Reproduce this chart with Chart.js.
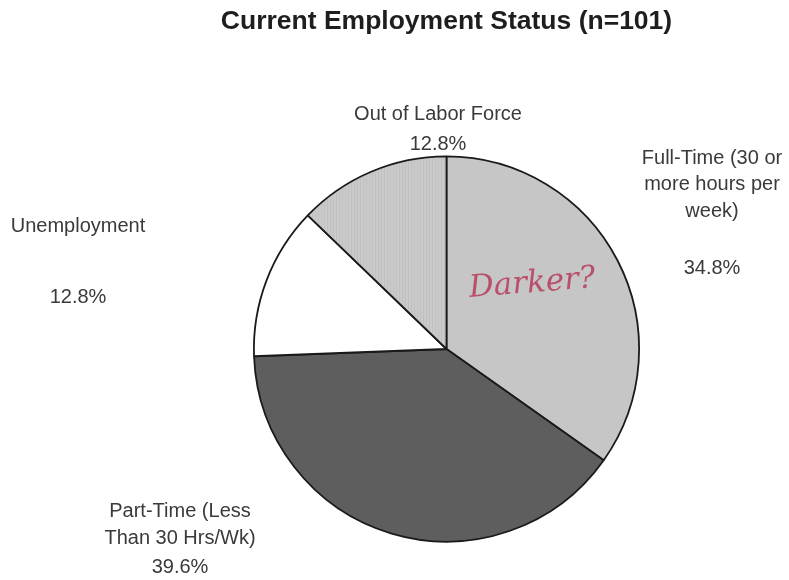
<!DOCTYPE html>
<html>
<head>
<meta charset="utf-8">
<script src="https://cdn.jsdelivr.net/npm/chart.js@4"></script>
<style>
  html, body { margin: 0; padding: 0; background: #fff; }
  #wrap { width: 789px; height: 580px; position: relative; }
</style>
</head>
<body>
<div id="wrap"><canvas id="chart"></canvas></div>
<script>
const title = "Current Employment Status (n=101)";
const categories = [
  "Full-Time (30 or more hours per week)",
  "Part-Time (Less Than 30 Hrs/Wk)",
  "Unemployment",
  "Out of Labor Force",
];
const values = [34.8, 39.6, 12.8, 12.8];
const labelLines = [
  ["Full-Time (30 or", "more hours per", "week)", "", "34.8%"],
  ["Part-Time (Less", "Than 30 Hrs/Wk)", "39.6%"],
  ["Unemployment", "", "", "12.8%"],
  ["Out of Labor Force", "12.8%"],
];
const note = "Darker?";

function hatch(base, line) {
  const c = document.createElement("canvas");
  c.width = 3;
  c.height = 1;
  const g = c.getContext("2d");
  g.fillStyle = base;
  g.fillRect(0, 0, 3, 1);
  g.fillStyle = line;
  g.fillRect(0, 0, 1, 1);
  return g.createPattern(c, "repeat");
}

// where each label block sits (center x, first baseline y) and line spacing
const labelPos = [
  { x: 712, y: 164, gap: [0, 26, 27, 0, 57] },
  { x: 180, y: 517, gap: [0, 27, 29] },
  { x: 78, y: 232, gap: [0, 0, 0, 71] },
  { x: 438, y: 120, gap: [0, 30] },
];

const textPlugin = {
  id: "texts",
  afterDraw(chart) {
    const ctx = chart.ctx;
    const arc = chart.getDatasetMeta(0).data[0];
    ctx.save();
    ctx.textAlign = "center";
    ctx.textBaseline = "middle";
    ctx.fillStyle = "#1e1e1e";
    ctx.font = "bold 26.5px 'Liberation Sans', Arial, sans-serif";
    ctx.fillText(title, arc.x, 22);

    ctx.fillStyle = "#3a3a3a";
    ctx.font = "20px 'Liberation Sans', Arial, sans-serif";
    ctx.textBaseline = "alphabetic";
    labelLines.forEach((lines, i) => {
      const p = labelPos[i];
      let y = p.y;
      lines.forEach((t, j) => {
        y += j === 0 ? 0 : (p.gap[j] || 0);
        if (t) ctx.fillText(t, p.x, y);
      });
    });

    // handwritten note on the full-time slice
    ctx.translate(533, 292);
    ctx.rotate(-0.08);
    ctx.fillStyle = "#b9506a";
    ctx.font = "italic 31px 'DejaVu Serif', serif";
    ctx.fillText(note, 0, 0);
    ctx.restore();
  },
};

new Chart(document.getElementById("chart"), {
  type: "pie",
  data: {
    labels: categories,
    datasets: [
      {
        data: values,
        backgroundColor: [
          "#c6c6c6",
          "#5e5e5e",
          "#ffffff",
          hatch("#cacaca", "#c1c1c1"),
        ],
        borderColor: "#1a1a1a",
        borderWidth: 1.8,
      },
    ],
  },
  options: {
    responsive: true,
    maintainAspectRatio: false,
    animation: false,
    layout: { padding: { left: 253, right: 149, top: 155, bottom: 37 } },
    plugins: {
      legend: { display: false },
      tooltip: { enabled: false },
      title: { display: false },
    },
  },
  plugins: [textPlugin],
});
</script>
</body>
</html>
